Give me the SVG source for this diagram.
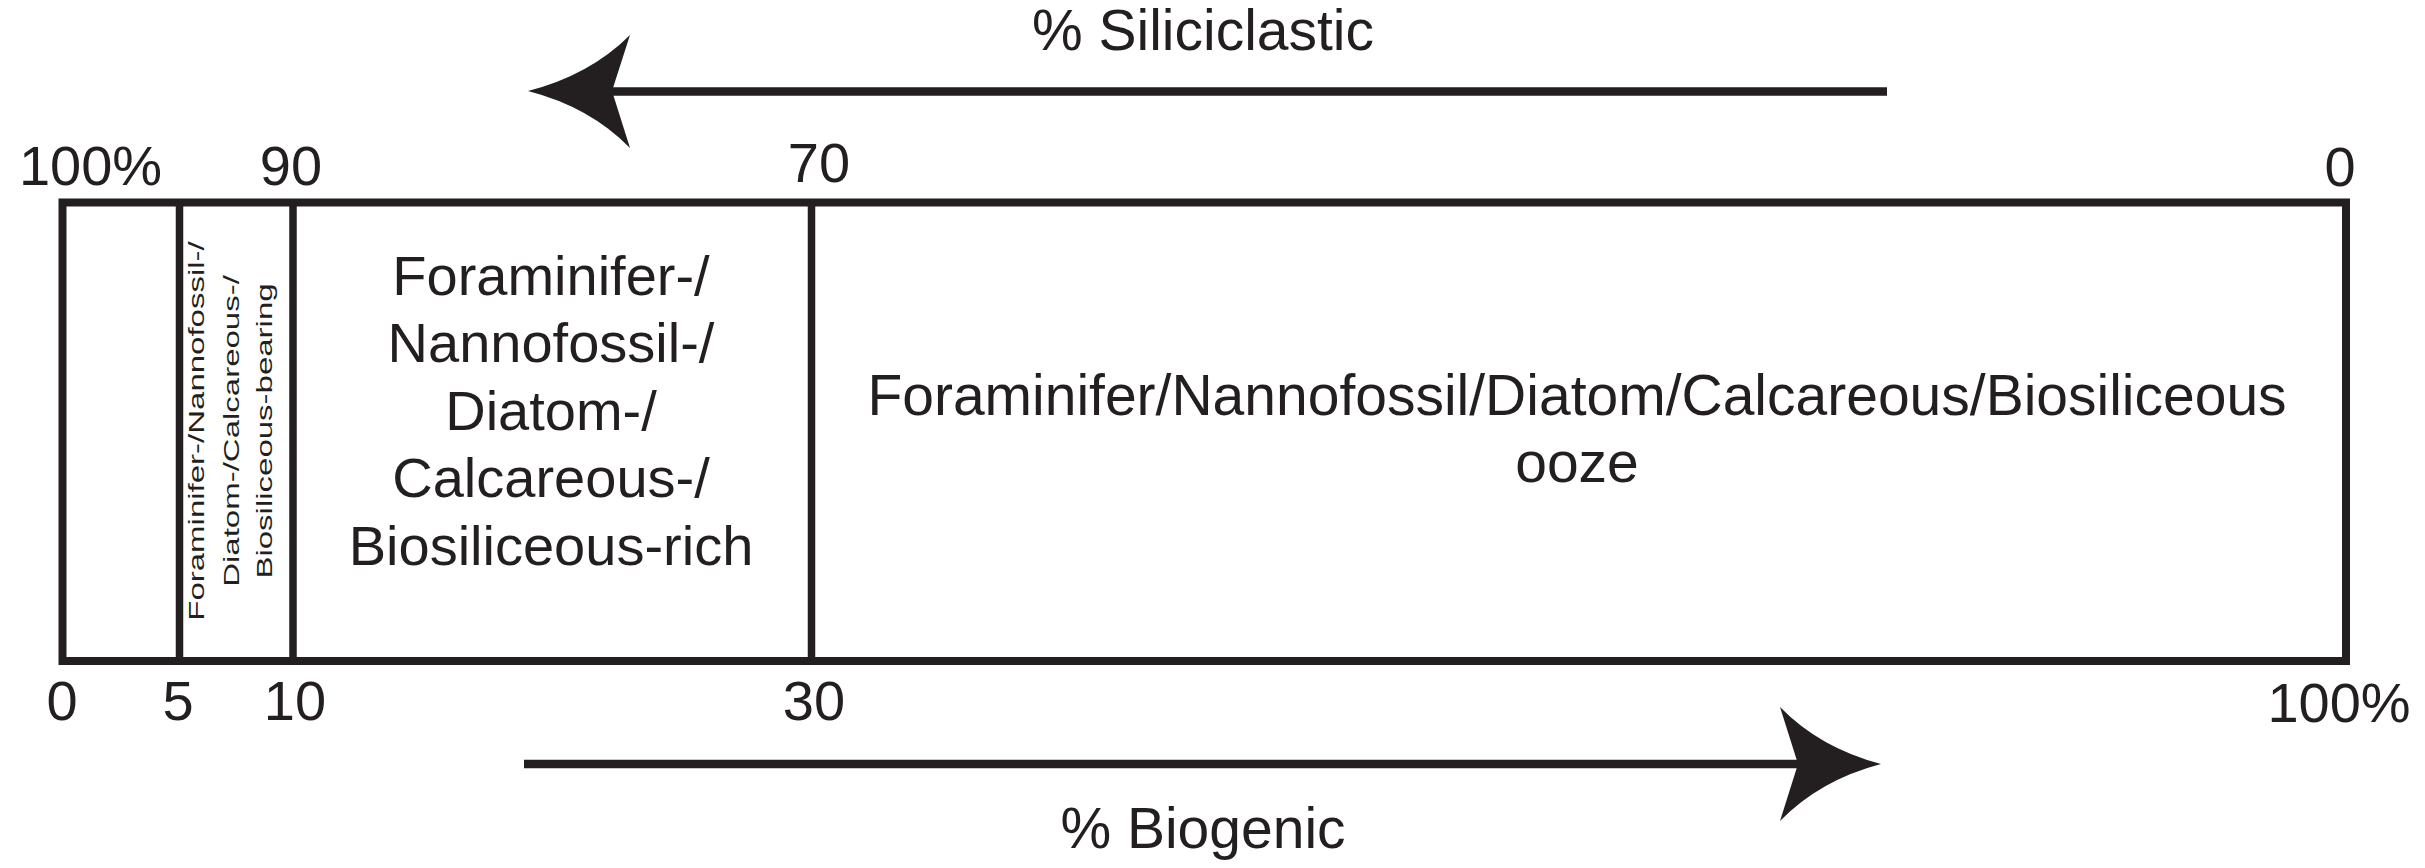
<svg xmlns="http://www.w3.org/2000/svg" width="2425" height="868" viewBox="0 0 2425 868">
  <style>
    text { font-family: "Liberation Sans", Arial, sans-serif; fill: #231f20; }
    .lbl { font-size: 56px; text-anchor: middle; }
    .big { font-size: 57px; text-anchor: middle; }
    .rich { font-size: 56px; text-anchor: middle; }
    .ooze { font-size: 57px; text-anchor: middle; }
    .vert { font-size: 22px; text-anchor: middle; }
    .frame { fill: none; stroke: #231f20; stroke-width: 8; }
    .div { stroke: #231f20; stroke-width: 7.5; }
    .shaft { stroke: #231f20; stroke-width: 8.5; fill: none; }
    .head { fill: #231f20; stroke: none; }
  </style>
  <rect width="2425" height="868" fill="#ffffff"/>

  <g id="frame">
    <rect class="frame" x="62.5" y="202.5" width="2283.5" height="458.5"/>
    <line class="div" x1="179.5" y1="202" x2="179.5" y2="661"/>
    <line class="div" x1="293" y1="202" x2="293" y2="661"/>
    <line class="div" x1="811.5" y1="202" x2="811.5" y2="661"/>
  </g>

  <g id="col-bearing">
    <text class="vert" transform="translate(204,431) rotate(-90) scale(1.5,1)">Foraminifer-/Nannofossil-/</text>
    <text class="vert" transform="translate(238.5,431) rotate(-90) scale(1.5,1)">Diatom-/Calcareous-/</text>
    <text class="vert" transform="translate(272,431) rotate(-90) scale(1.5,1)">Biosiliceous-bearing</text>
  </g>

  <g id="col-rich">
    <text class="rich" x="551" y="295">Foraminifer-/</text>
    <text class="rich" x="551" y="362">Nannofossil-/</text>
    <text class="rich" x="551" y="430">Diatom-/</text>
    <text class="rich" x="551" y="497">Calcareous-/</text>
    <text class="rich" x="551" y="565">Biosiliceous-rich</text>
  </g>

  <g id="col-ooze">
    <text class="ooze" x="1577" y="415">Foraminifer/Nannofossil/Diatom/Calcareous/Biosiliceous</text>
    <text class="ooze" x="1577" y="482">ooze</text>
  </g>

  <g id="scale-top">
    <text class="lbl" x="90.5" y="185">100%</text>
    <text class="lbl" x="291" y="185">90</text>
    <text class="lbl" x="819" y="182">70</text>
    <text class="lbl" x="2340" y="186">0</text>
  </g>

  <g id="scale-bottom">
    <text class="lbl" x="62" y="720">0</text>
    <text class="lbl" x="178" y="720">5</text>
    <text class="lbl" x="295" y="720">10</text>
    <text class="lbl" x="814" y="720">30</text>
    <text class="lbl" x="2339" y="722">100%</text>
  </g>

  <g id="connectors">
    <g id="arrow-siliciclastic">
      <line class="shaft" x1="612" y1="91.5" x2="1887" y2="91.5"/>
      <path class="head" d="M528,91 Q590,75 630,35 L612,91 L630,148 Q590,107 528,91 Z"/>
    </g>
    <g id="arrow-biogenic">
      <line class="shaft" x1="524" y1="764" x2="1798" y2="764"/>
      <path class="head" d="M1881,764 Q1820,748 1780,707 L1798,764 L1780,821 Q1820,780 1881,764 Z"/>
    </g>
  </g>

  <g id="axis-titles">
    <text class="big" x="1203" y="50">% Siliciclastic</text>
    <text class="big" x="1203" y="848">% Biogenic</text>
  </g>
</svg>
